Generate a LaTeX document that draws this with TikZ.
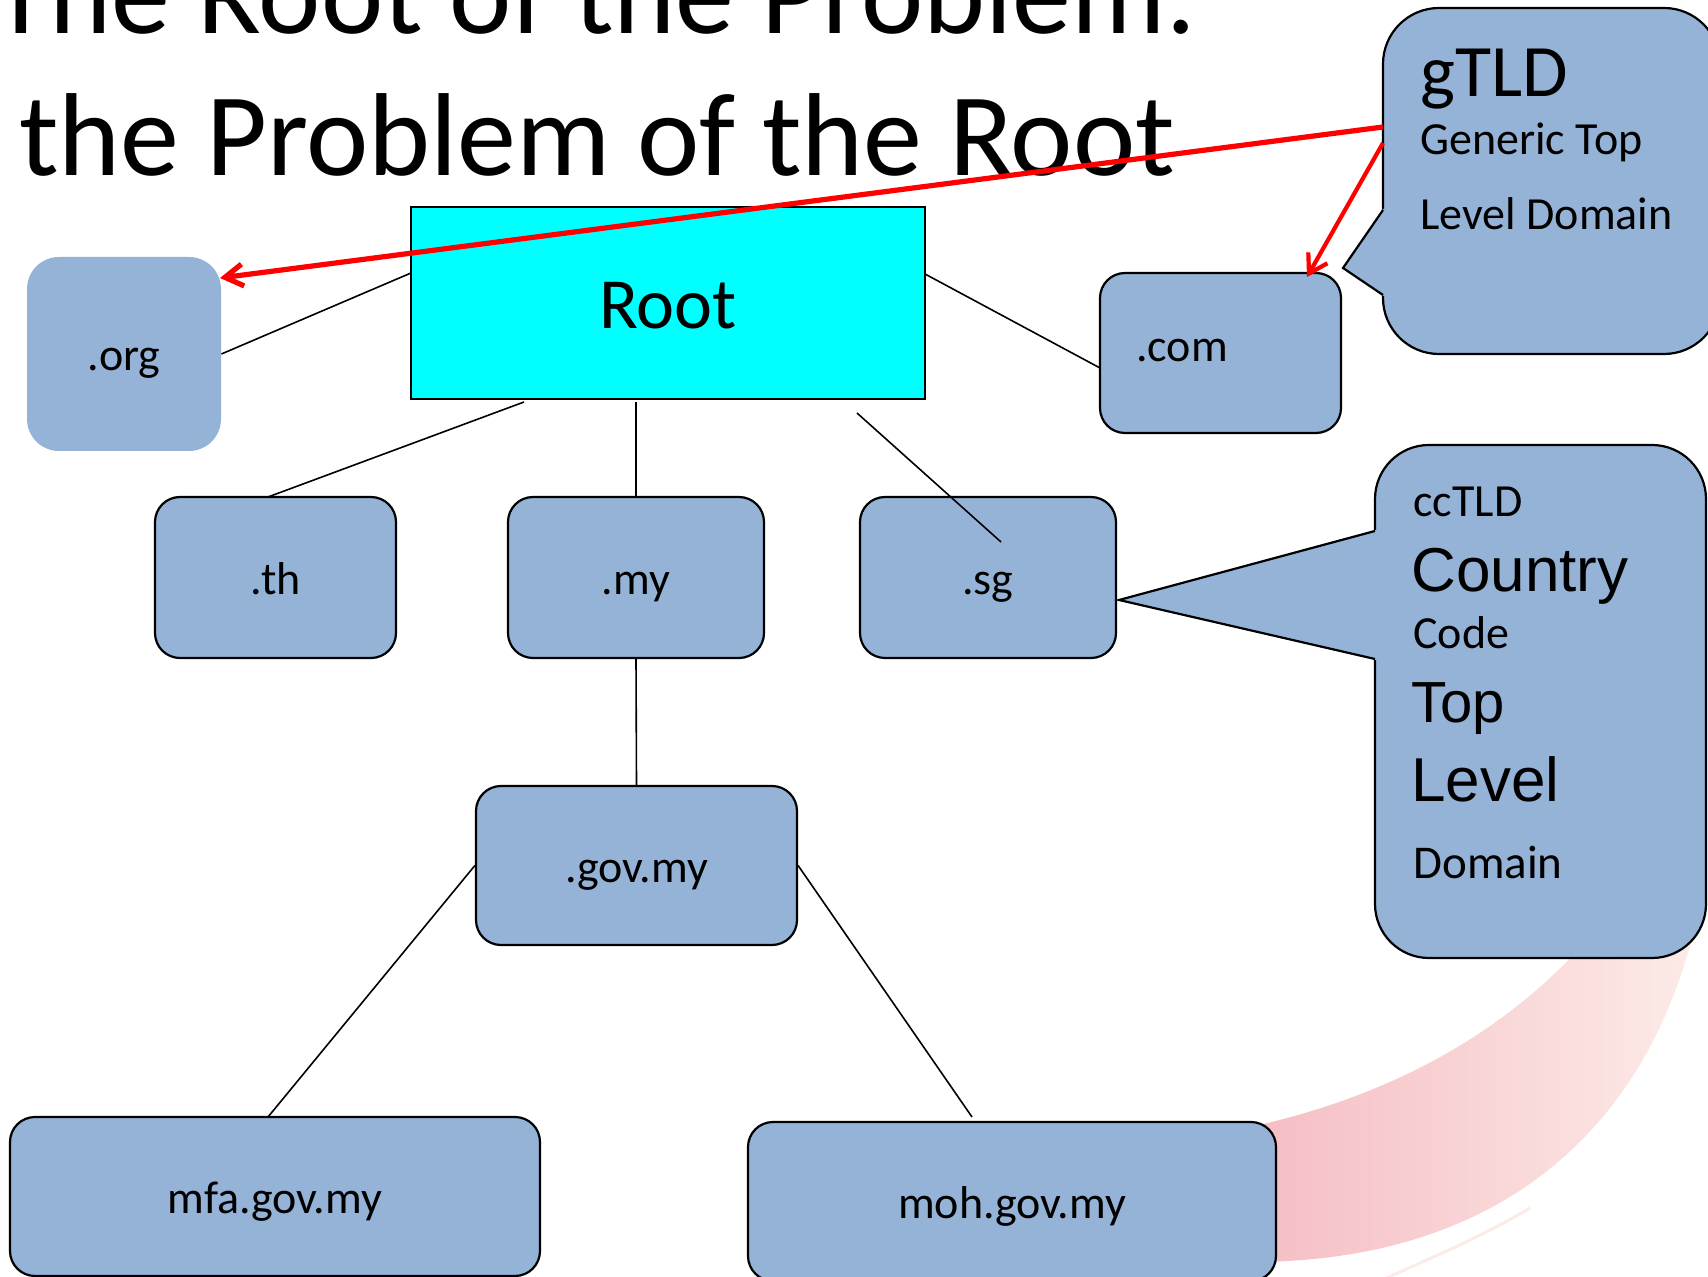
\documentclass[tikz,border=0pt]{standalone}
\usepackage{fontspec}
\setmainfont{Carlito}
\newfontfamily\arialf{Liberation Sans}
\usetikzlibrary{arrows.meta}
\definecolor{boxblue}{RGB}{149,179,215}
\definecolor{pinkL}{RGB}{245,189,195}
\definecolor{pinkR}{RGB}{252,236,232}
\definecolor{rootcyan}{RGB}{0,255,255}
\begin{document}
\begin{tikzpicture}[x=0.5pt,y=-0.5pt,
  box/.style={draw=black, line width=1.1pt, fill=boxblue, rounded corners=12.5pt, inner sep=0pt,
    font=\fontsize{23}{27}\selectfont, text height=17pt, text depth=0pt},
  lbl/.style={inner sep=0pt, font=\fontsize{23}{27}\selectfont, text height=17pt, text depth=0pt},
  conn/.style={draw=black, line width=0.8pt},
  callbox/.style={draw=black, line width=1.1pt, fill=boxblue, inner sep=0pt},
  ctext/.style={inner sep=0pt, anchor=base west},
  redarrow/.style={draw=red, line width=2.6pt, -{Straight Barb[length=9pt,width=11pt]}},
  titletext/.style={inner sep=0pt, anchor=base west, font=\fontsize{59}{64}\selectfont}
]
\useasboundingbox (0,0) rectangle (1708,1277);
\clip (0,0) rectangle (1708,1277);
\fill[white] (0,0) rectangle (1708,1277);

% pink swoosh
\shade[left color=pinkL, right color=pinkR] (1250,1127) .. controls (1420,1090) and (1530,1010) .. (1600,925)
  -- (1705,870) .. controls (1680,1060) and (1560,1262) .. (1250,1262) -- cycle;
\draw[pinkR, line width=1.5pt] (1380,1281) .. controls (1430,1258) and (1480,1238) .. (1530,1208);

% title
\node[titletext] (title1) at (-8,34) {The Root of the Problem:};
\node[titletext] (title2) at (19,176) {the Problem of the Root};

% boxes
\node[draw=black, line width=1.2pt, fill=rootcyan, minimum width=257pt, minimum height=96pt, inner sep=0pt,
  font=\fontsize{36}{40}\selectfont, text height=26pt, text depth=0pt] (root) at (668,303) {Root};
\node[fill=boxblue, rounded corners=16pt, minimum width=97pt, minimum height=97pt, inner sep=0pt,
  font=\fontsize{23}{27}\selectfont, text height=17pt, text depth=0pt] (org) at (124,354) {.org};
\node[box, minimum width=120.5pt, minimum height=80pt] (com) at (1220.5,353) {};
\node[lbl] (comlbl) at (1182,345) {.com};
\node[box, minimum width=120.5pt, minimum height=80.5pt] (th) at (275.5,577.5) {.th};
\node[box, minimum width=128pt, minimum height=80.5pt] (my) at (636,577.5) {.my};
\node[box, minimum width=128pt, minimum height=80.5pt] (sg) at (988,577.5) {.sg};
\node[box, minimum width=160.5pt, minimum height=79.5pt] (govmy) at (636.5,865.5) {.gov.my};
\node[box, minimum width=265pt, minimum height=79.5pt] (mfa) at (275,1196.5) {mfa.gov.my};
\node[box, minimum width=264pt, minimum height=79.5pt] (moh) at (1012,1201.5) {moh.gov.my};

% connector end points
\coordinate (rorg) at (411,273);
\coordinate (rcom) at (925,274);
\coordinate (comin) at (1100,368);
\coordinate (rth) at (524,402);
\coordinate (thtop) at (268,497);
\coordinate (rmy) at (636,402);
\coordinate (rsg) at (857,413);
\coordinate (sgin) at (1001,542);
\coordinate (mfatop) at (268,1117);
\coordinate (mohtop) at (972,1117);

\draw[conn] (rorg) -- (org.east);
\draw[conn] (rcom) -- (comin);
\draw[conn] (rth) -- (thtop);
\draw[conn] (rmy) -- (my.north);
\draw[conn] (rsg) -- (sgin);
\draw[conn] (my.south) -- (govmy.north);
\draw[conn] (govmy.west) -- (mfatop);
\draw[conn] (govmy.east) -- (mohtop);

% gTLD callout
\node[callbox, rounded corners=28pt, minimum width=168.5pt, minimum height=173pt] (gbox) at (1551.5,181) {};
\fill[boxblue] (1391,209) -- (1383,209) -- (1343,268) -- (1383,296) -- (1391,296) -- cycle;
\draw[line width=1.1pt, line join=miter] (1383,210) -- (1343,268) -- (1383,295);
\node[ctext, font=\fontsize{37}{40}\selectfont] (gtld) at (1420,97) {gTLD};
\node[ctext, font=\fontsize{23}{27}\selectfont] (gen) at (1420,155) {Generic Top};
\node[ctext, font=\fontsize{23}{27}\selectfont] (lvd) at (1420,230) {Level Domain};

% ccTLD callout
\node[callbox, rounded corners=27pt, minimum width=165.5pt, minimum height=256.5pt] (cbox) at (1540.5,701.5) {};
\fill[boxblue] (1383,530) -- (1375,530) -- (1119,600) -- (1375,660) -- (1383,660) -- cycle;
\draw[line width=1.1pt, line join=miter] (1375,531) -- (1119,600) -- (1375,659);
\node[ctext, font=\fontsize{23}{27}\selectfont] (cc) at (1413,517) {ccTLD};
\node[ctext, font=\arialf\fontsize{31}{34}\selectfont] (country) at (1411,592) {Country};
\node[ctext, font=\fontsize{23}{27}\selectfont] (code) at (1413,649) {Code};
\node[ctext, font=\arialf\fontsize{29}{32}\selectfont] (top) at (1411,723) {Top};
\node[ctext, font=\arialf\fontsize{31}{34}\selectfont] (level) at (1411,802) {Level};
\node[ctext, font=\fontsize{23.5}{27}\selectfont] (domain) at (1413,878) {Domain};

% red arrows
\coordinate (g1) at (1383,127);
\coordinate (g2) at (1383,143);
\coordinate (orgtip) at (220,278);
\coordinate (comtip) at (1307,277);
\draw[redarrow] (g1) -- (orgtip);
\draw[redarrow, line width=2.1pt] (g2) -- (comtip);
\end{tikzpicture}
\end{document}
